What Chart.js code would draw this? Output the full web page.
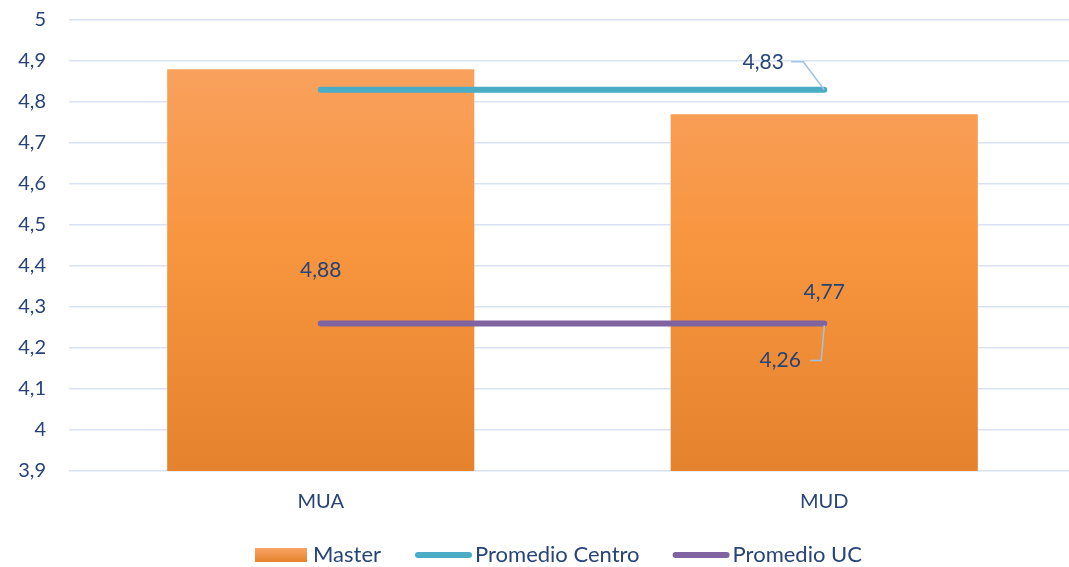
<!DOCTYPE html>
<html>
<head>
<meta charset="utf-8">
<script src="https://cdn.jsdelivr.net/npm/chart.js@4"></script>
<style>
  html, body { margin: 0; background: #fff; overflow: hidden; }
  #wrap { width: 1076px; height: 567px; position: relative; }
</style>
</head>
<body>
<div id="wrap"><canvas id="myChart"></canvas></div>
<script>
const labels = ['MUA', 'MUD'];
const master = [4.88, 4.77];
const promedioCentro = [4.83, 4.83];
const promedioUC = [4.26, 4.26];
const yMin = 3.9, yMax = 5, yStep = 0.1;

const textColor = '#264478';
const fontFam = 'Lato, "Open Sans", sans-serif';

const fmt = v => String(Math.round(v * 100) / 100).replace('.', ',');

// orange gradient for the bars
const barFill = (ctx) => {
  const area = ctx.chart.chartArea;
  if (!area) return '#F79646';
  const g = ctx.chart.ctx.createLinearGradient(0, area.top, 0, area.bottom);
  g.addColorStop(0, '#F9A465');
  g.addColorStop(0.5, '#F8953F');
  g.addColorStop(1, '#E5822D');
  return g;
};

// data labels + leader lines, and the legend at the bottom
const labelsPlugin = {
  id: 'labelsPlugin',
  afterDatasetsDraw(chart) {
    const c = chart.ctx;
    const area = chart.chartArea;
    c.save();
    c.font = '21px ' + fontFam;
    c.fillStyle = textColor;
    c.textAlign = 'center';
    c.textBaseline = 'middle';

    // bar labels centred on each bar
    chart.getDatasetMeta(0).data.forEach((bar, i) => {
      const mid = (bar.y + area.bottom) / 2;
      c.fillText(fmt(master[i]), bar.x, mid);
    });

    c.strokeStyle = '#9DC3E6';
    c.lineWidth = 1.5;

    // Promedio Centro, label on last point with leader line
    let p = chart.getDatasetMeta(1).data[1];
    c.fillText(fmt(promedioCentro[1]), p.x - 61, p.y - 27);
    c.beginPath();
    c.moveTo(p.x - 33, p.y - 28);
    c.lineTo(p.x - 21, p.y - 28);
    c.lineTo(p.x, p.y);
    c.stroke();

    // Promedio UC
    p = chart.getDatasetMeta(2).data[1];
    c.fillText(fmt(promedioUC[1]), p.x - 44, p.y + 37);
    c.beginPath();
    c.moveTo(p.x - 14, p.y + 37);
    c.lineTo(p.x - 3, p.y + 37);
    c.lineTo(p.x, p.y + 2);
    c.stroke();

    // legend
    c.font = '22px ' + fontFam;
    c.textAlign = 'left';
    let x = 255;
    const ly = 555;
    const lg = c.createLinearGradient(0, ly - 7, 0, ly + 7);
    lg.addColorStop(0, '#F9A465');
    lg.addColorStop(1, '#E5822D');
    c.fillStyle = lg;
    c.fillRect(x, ly - 7, 52, 14);
    x += 58;
    c.fillStyle = textColor;
    c.fillText('Master', x, ly);
    x += c.measureText('Master').width + 34;

    const lineItem = (color, text) => {
      c.strokeStyle = color;
      c.lineWidth = 6;
      c.lineCap = 'round';
      c.beginPath();
      c.moveTo(x + 3, ly);
      c.lineTo(x + 54, ly);
      c.stroke();
      x += 60;
      c.fillStyle = textColor;
      c.fillText(text, x, ly);
      x += c.measureText(text).width + 33;
    };
    lineItem('#4BACC6', 'Promedio Centro');
    lineItem('#8064A2', 'Promedio UC');
    c.restore();
  }
};

const data = {
  labels: labels,
  datasets: [
    {
      type: 'bar',
      label: 'Master',
      data: master,
      backgroundColor: barFill,
      barPercentage: 0.61,
      categoryPercentage: 1,
      order: 3
    },
    {
      type: 'line',
      label: 'Promedio Centro',
      data: promedioCentro,
      borderColor: '#4BACC6',
      backgroundColor: '#4BACC6',
      borderWidth: 6,
      borderCapStyle: 'round',
      pointRadius: 0,
      order: 1
    },
    {
      type: 'line',
      label: 'Promedio UC',
      data: promedioUC,
      borderColor: '#8064A2',
      backgroundColor: '#8064A2',
      borderWidth: 6,
      borderCapStyle: 'round',
      pointRadius: 0,
      order: 2
    }
  ]
};

const config = {
  type: 'bar',
  data: data,
  options: {
    responsive: true,
    maintainAspectRatio: false,
    animation: false,
    layout: { padding: { top: 20, right: 0, bottom: 0, left: 0 } },
    plugins: {
      legend: { display: false },
      tooltip: { enabled: false }
    },
    scales: {
      x: {
        grid: { display: false, drawTicks: false },
        border: { display: false },
        ticks: { color: textColor, font: { family: fontFam, size: 20 }, padding: 19 },
        afterFit(scale) { scale.height = 96; scale.paddingLeft = 0; scale.paddingRight = 0; }
      },
      y: {
        min: yMin,
        max: yMax,
        border: { display: false },
        grid: { color: '#D9E2F3', lineWidth: 1.5, drawTicks: false },
        ticks: {
          stepSize: yStep,
          color: textColor,
          font: { family: fontFam, size: 20 },
          padding: 23,
          callback: v => fmt(v)
        },
        afterFit(scale) { scale.width = 69; scale.paddingTop = 0; scale.paddingBottom = 0; }
      }
    }
  },
  plugins: [labelsPlugin]
};

const myChart = new Chart(document.getElementById('myChart'), config);
</script>
</body>
</html>
